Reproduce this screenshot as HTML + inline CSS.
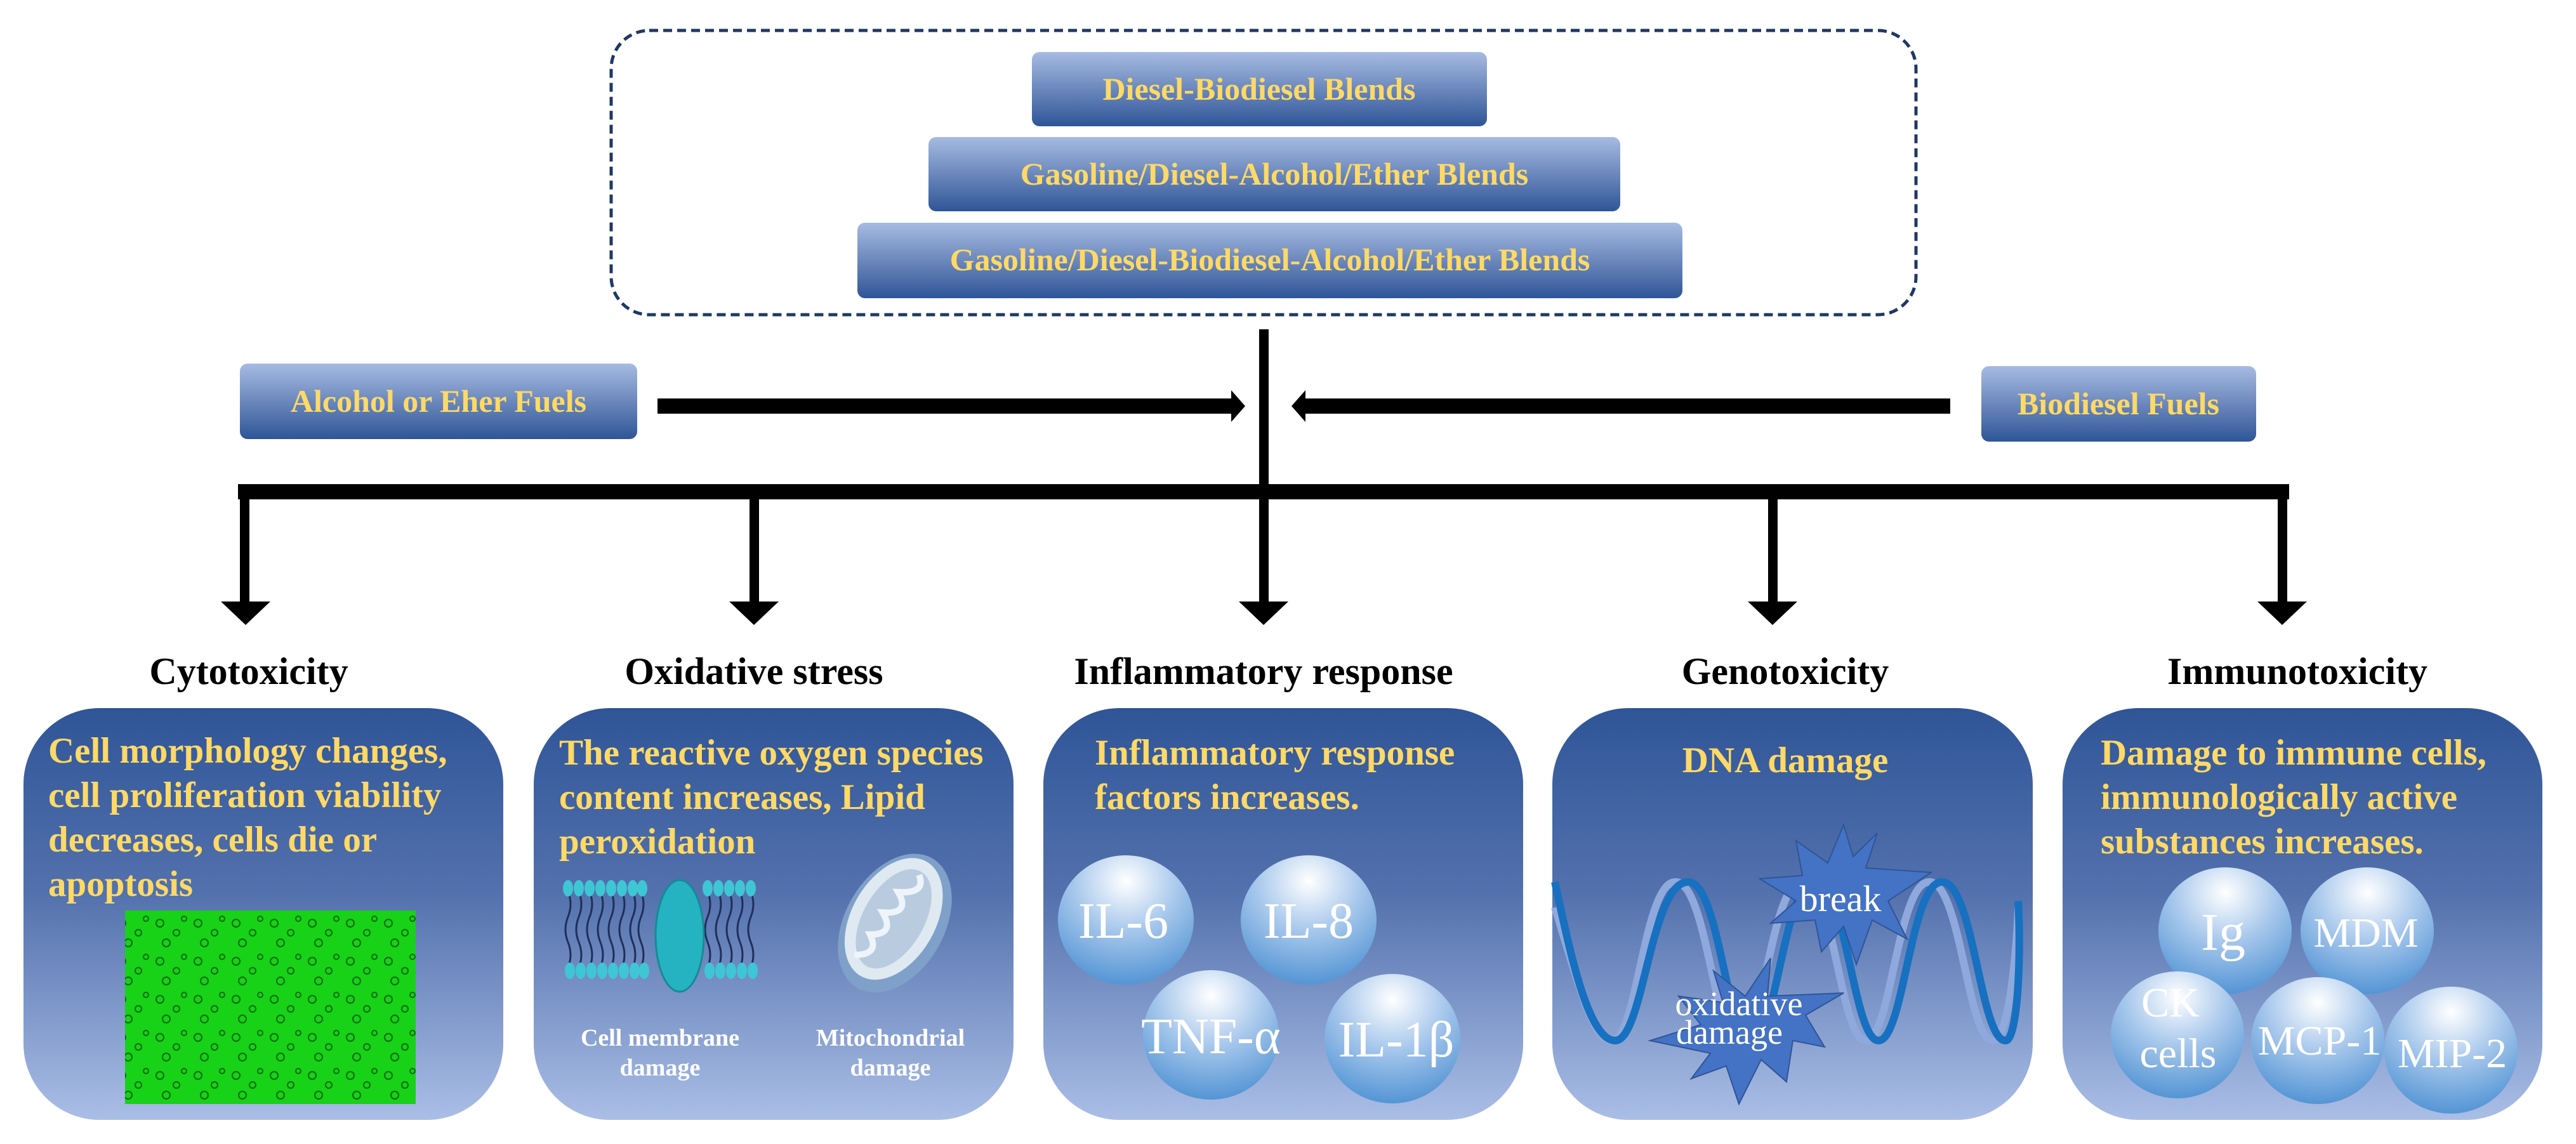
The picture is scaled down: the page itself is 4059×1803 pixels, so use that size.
<!DOCTYPE html>
<html><head><meta charset="utf-8"><style>
html,body{margin:0;padding:0;background:#fff;}
svg{display:block;}
svg text{font-family:"Liberation Serif","Times New Roman","DejaVu Serif",serif;font-weight:bold;}
</style></head><body>
<svg width="4059" height="1803" viewBox="0 0 4059 1803" xmlns="http://www.w3.org/2000/svg" font-family="Liberation Serif, Times New Roman, DejaVu Serif, serif">
<defs>
<linearGradient id="fb" x1="0" y1="0" x2="0" y2="1"><stop offset="0" stop-color="#a7bbe2"/><stop offset="1" stop-color="#2f5597"/></linearGradient>
<linearGradient id="pn" x1="0" y1="0" x2="0" y2="1"><stop offset="0" stop-color="#2f5597"/><stop offset="0.45" stop-color="#5371ad"/><stop offset="1" stop-color="#aabee6"/></linearGradient>
<radialGradient id="sp" cx="0.5" cy="0.2" r="0.85"><stop offset="0" stop-color="#ffffff"/><stop offset="0.45" stop-color="#a8c8ec"/><stop offset="1" stop-color="#4a8fd2"/></radialGradient>
<pattern id="cells" width="60" height="60" patternUnits="userSpaceOnUse">
<rect width="60" height="60" fill="#17d217"/>
<circle cx="12" cy="15" r="6" fill="none" stroke="#0a6a0a" stroke-width="2"/>
<circle cx="38" cy="30" r="5" fill="none" stroke="#0a6a0a" stroke-width="2"/>
<circle cx="22" cy="46" r="6" fill="none" stroke="#0a6a0a" stroke-width="2"/>
<circle cx="50" cy="8" r="4" fill="none" stroke="#0a6a0a" stroke-width="2"/>
</pattern>
</defs>

<rect x="963" y="48" width="2056" height="448" rx="60" fill="none" stroke="#1f3864" stroke-width="5" stroke-dasharray="14 8"/>

<rect x="1626" y="82" width="717" height="117" rx="12" fill="url(#fb)"/>
<text x="1984" y="157" font-size="50" fill="#ffd966" text-anchor="middle">Diesel-Biodiesel Blends</text>
<rect x="1463" y="216" width="1090" height="117" rx="12" fill="url(#fb)"/>
<text x="2008" y="291" font-size="50" fill="#ffd966" text-anchor="middle">Gasoline/Diesel-Alcohol/Ether Blends</text>
<rect x="1351" y="351" width="1300" height="119" rx="12" fill="url(#fb)"/>
<text x="2001" y="426" font-size="50" fill="#ffd966" text-anchor="middle">Gasoline/Diesel-Biodiesel-Alcohol/Ether Blends</text>

<rect x="378" y="573" width="626" height="119" rx="12" fill="url(#fb)"/>
<text x="691" y="649" font-size="50" fill="#ffd966" text-anchor="middle">Alcohol or Eher Fuels</text>
<rect x="3122" y="577" width="433" height="119" rx="12" fill="url(#fb)"/>
<text x="3338" y="653" font-size="50" fill="#ffd966" text-anchor="middle">Biodiesel Fuels</text>

<rect x="1984" y="519" width="15" height="260" fill="#000"/>
<rect x="1036" y="628" width="914" height="24" fill="#000"/>
<polygon points="1940,615 1962,640 1940,665" fill="#000"/>
<rect x="2047" y="628" width="1026" height="24" fill="#000"/>
<polygon points="2057,615 2035,640 2057,665" fill="#000"/>
<rect x="375" y="763" width="3232" height="24" fill="#000"/>
<g fill="#000">
<rect x="378" y="780" width="15" height="175"/><polygon points="348,948 426,948 387,985"/>
<rect x="1181" y="780" width="15" height="175"/><polygon points="1149,948 1227,948 1188,985"/>
<rect x="1984" y="780" width="15" height="175"/><polygon points="1952,948 2030,948 1991,985"/>
<rect x="2786" y="780" width="15" height="175"/><polygon points="2754,948 2832,948 2793,985"/>
<rect x="3589" y="780" width="15" height="175"/><polygon points="3557,948 3635,948 3596,985"/>
</g>

<g font-size="60" fill="#000" text-anchor="middle">
<text x="392" y="1078">Cytotoxicity</text>
<text x="1188" y="1078">Oxidative stress</text>
<text x="1991" y="1078">Inflammatory response</text>
<text x="2813" y="1078">Genotoxicity</text>
<text x="3620" y="1078">Immunotoxicity</text>
</g>

<rect x="37" y="1116" width="756" height="649" rx="120" fill="url(#pn)"/>
<rect x="841" y="1116" width="756" height="649" rx="120" fill="url(#pn)"/>
<rect x="1644" y="1116" width="756" height="649" rx="120" fill="url(#pn)"/>
<rect x="2446" y="1116" width="757" height="649" rx="120" fill="url(#pn)"/>
<rect x="3250" y="1116" width="756" height="649" rx="120" fill="url(#pn)"/>

<g font-size="57" fill="#ffd966">
<text x="76" y="1202">Cell morphology changes,</text>
<text x="76" y="1272">cell proliferation viability</text>
<text x="76" y="1342">decreases, cells die or</text>
<text x="76" y="1412">apoptosis</text>
<text x="881" y="1205">The reactive oxygen species</text>
<text x="881" y="1275">content  increases, Lipid</text>
<text x="881" y="1345">peroxidation</text>
<text x="1725" y="1205">Inflammatory response</text>
<text x="1725" y="1275">factors increases.</text>
<text x="2813" y="1217" text-anchor="middle">DNA damage</text>
<text x="3310" y="1205">Damage to immune cells,</text>
<text x="3310" y="1275">immunologically active</text>
<text x="3310" y="1345">substances increases.</text>
</g>

<rect x="197" y="1435" width="458" height="305" fill="url(#cells)"/>

<g>
<g stroke="#1f2f5a" stroke-width="3" fill="none">
<path d="M895 1405 q8 20 0 40 q-8 20 0 40 q8 20 0 40 M912 1405 q8 20 0 40 q-8 20 0 40 q8 20 0 40 M929 1405 q8 20 0 40 q-8 20 0 40 q8 20 0 40 M946 1405 q8 20 0 40 q-8 20 0 40 q8 20 0 40 M963 1405 q8 20 0 40 q-8 20 0 40 q8 20 0 40 M980 1405 q8 20 0 40 q-8 20 0 40 q8 20 0 40 M997 1405 q8 20 0 40 q-8 20 0 40 q8 20 0 40 M1010 1405 q8 20 0 40 q-8 20 0 40 q8 20 0 40 M1115 1405 q8 20 0 40 q-8 20 0 40 q8 20 0 40 M1132 1405 q8 20 0 40 q-8 20 0 40 q8 20 0 40 M1149 1405 q8 20 0 40 q-8 20 0 40 q8 20 0 40 M1166 1405 q8 20 0 40 q-8 20 0 40 q8 20 0 40 M1183 1405 q8 20 0 40 q-8 20 0 40 q8 20 0 40"/>
</g>
<g fill="#3ec6d4">
<ellipse cx="895" cy="1400" rx="8" ry="13"/><ellipse cx="912" cy="1400" rx="8" ry="13"/><ellipse cx="929" cy="1400" rx="8" ry="13"/><ellipse cx="946" cy="1400" rx="8" ry="13"/><ellipse cx="963" cy="1400" rx="8" ry="13"/><ellipse cx="980" cy="1400" rx="8" ry="13"/><ellipse cx="997" cy="1400" rx="8" ry="13"/><ellipse cx="1012" cy="1400" rx="8" ry="13"/>
<ellipse cx="1115" cy="1400" rx="8" ry="13"/><ellipse cx="1132" cy="1400" rx="8" ry="13"/><ellipse cx="1149" cy="1400" rx="8" ry="13"/><ellipse cx="1166" cy="1400" rx="8" ry="13"/><ellipse cx="1183" cy="1400" rx="8" ry="13"/>
<ellipse cx="898" cy="1530" rx="8" ry="13"/><ellipse cx="915" cy="1530" rx="8" ry="13"/><ellipse cx="932" cy="1530" rx="8" ry="13"/><ellipse cx="949" cy="1530" rx="8" ry="13"/><ellipse cx="966" cy="1530" rx="8" ry="13"/><ellipse cx="983" cy="1530" rx="8" ry="13"/><ellipse cx="1000" cy="1530" rx="8" ry="13"/><ellipse cx="1015" cy="1530" rx="8" ry="13"/>
<ellipse cx="1118" cy="1530" rx="8" ry="13"/><ellipse cx="1135" cy="1530" rx="8" ry="13"/><ellipse cx="1152" cy="1530" rx="8" ry="13"/><ellipse cx="1169" cy="1530" rx="8" ry="13"/><ellipse cx="1186" cy="1530" rx="8" ry="13"/>
</g>
<ellipse cx="1071" cy="1475" rx="38" ry="88" fill="#25b3c2" stroke="#168a96" stroke-width="3"/>
</g>
<g transform="rotate(30 1410 1455)">
<ellipse cx="1410" cy="1455" rx="78" ry="118" fill="#7fa0c8"/>
<ellipse cx="1405" cy="1450" rx="66" ry="104" fill="#dfe9f2"/>
<ellipse cx="1405" cy="1450" rx="48" ry="86" fill="#b9ccdf"/>
<path d="M1405 1370 q25 20 -15 40 q35 20 -5 40 q35 20 0 40 q30 20 -5 40" stroke="#eef4fa" stroke-width="10" fill="none"/>
</g>
<g font-size="38" fill="#ffffff" text-anchor="middle">
<text x="1040" y="1648">Cell membrane</text>
<text x="1040" y="1695">damage</text>
<text x="1403" y="1648">Mitochondrial</text>
<text x="1403" y="1695">damage</text>
</g>

<g fill="url(#sp)">
<ellipse cx="1774" cy="1450" rx="107" ry="102"/>
<ellipse cx="2062" cy="1450" rx="107" ry="102"/>
<ellipse cx="1908" cy="1631" rx="107" ry="102"/>
<ellipse cx="2194" cy="1637" rx="107" ry="102"/>
</g>
<g font-size="80" fill="#ffffff" text-anchor="middle">
<text x="1770" y="1478" style="font-weight:normal">IL-6</text>
<text x="2062" y="1478" style="font-weight:normal">IL-8</text>
<text x="1908" y="1660" style="font-weight:normal">TNF-α</text>
<text x="2200" y="1665" style="font-weight:normal">IL-1β</text>
</g>

<g fill="none" stroke-width="12">
<path d="M2450 1430 C2490 1560 2510 1640 2540 1640 C2580 1640 2590 1390 2640 1390 C2690 1390 2700 1640 2740 1640 C2780 1640 2790 1390 2840 1390 C2890 1390 2900 1640 2940 1640 C2980 1640 2990 1390 3040 1390 C3090 1390 3100 1640 3140 1640 C3170 1640 3180 1450 3180 1430" stroke="#8fa9dc"/>
<path d="M2450 1390 C2470 1480 2500 1640 2545 1640 C2590 1640 2600 1390 2660 1390 C2710 1390 2720 1640 2760 1640 C2800 1640 2810 1390 2860 1390 C2910 1390 2920 1640 2960 1640 C3000 1640 3010 1390 3060 1390 C3110 1390 3120 1640 3160 1640 C3180 1640 3185 1500 3180 1420" stroke="#1770c0"/>
</g>
<polygon fill="#4472c4" stroke="#2f5597" stroke-width="2" points="2958,1313 2940,1368 3043,1375 2975,1420 3005,1480 2950,1450 2925,1520 2905,1460 2870,1500 2860,1450 2790,1455 2830,1420 2773,1385 2840,1380 2830,1325 2880,1360 2905,1300 2920,1350"/>
<polygon fill="#4472c4" stroke="#2f5597" stroke-width="2" points="2790,1510 2785,1570 2905,1565 2845,1600 2875,1650 2825,1640 2815,1705 2775,1670 2740,1740 2720,1680 2665,1700 2695,1660 2600,1640 2680,1615 2645,1570 2715,1580 2700,1530 2750,1570"/>
<g fill="#ffffff" text-anchor="middle">
<text x="2900" y="1436" font-size="58" style="font-weight:normal">break</text>
<text x="2740" y="1600" font-size="54" style="font-weight:normal">oxidative</text>
<text x="2725" y="1645" font-size="54" style="font-weight:normal">damage</text>
</g>

<g fill="url(#sp)">
<ellipse cx="3506" cy="1467" rx="105" ry="100"/>
<ellipse cx="3730" cy="1467" rx="105" ry="100"/>
<ellipse cx="3431" cy="1631" rx="105" ry="100"/>
<ellipse cx="3652" cy="1640" rx="105" ry="100"/>
<ellipse cx="3862" cy="1655" rx="105" ry="100"/>
</g>
<g font-size="66" fill="#ffffff" text-anchor="middle">
<text x="3503" y="1497" font-size="84" style="font-weight:normal">Ig</text>
<text x="3728" y="1492" style="font-weight:normal">MDM</text>
<text x="3420" y="1602" style="font-weight:normal">CK</text>
<text x="3432" y="1682" style="font-weight:normal">cells</text>
<text x="3655" y="1662" style="font-weight:normal">MCP-1</text>
<text x="3864" y="1682" style="font-weight:normal">MIP-2</text>
</g>
</svg>
</body></html>
